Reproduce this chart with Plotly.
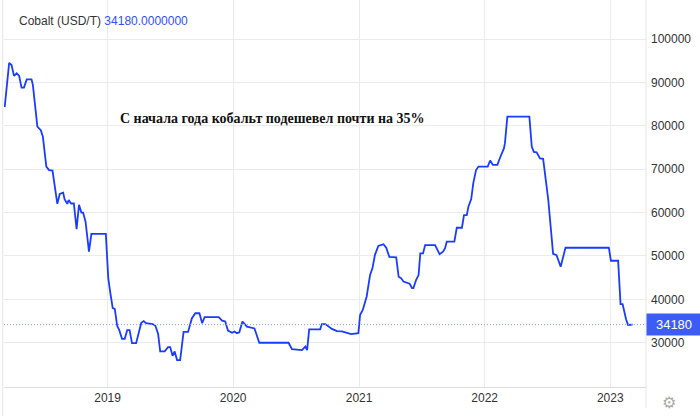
import plotly.graph_objects as go

dates = [
    "2018-03-08", "2018-03-21", "2018-03-28", "2018-04-04", "2018-04-12", "2018-04-19",
    "2018-04-26", "2018-05-03", "2018-05-11", "2018-05-25", "2018-05-29", "2018-06-11",
    "2018-06-21", "2018-06-27", "2018-07-07", "2018-07-15", "2018-07-25", "2018-08-08",
    "2018-08-15", "2018-08-25", "2018-08-29", "2018-09-06", "2018-09-10", "2018-09-17",
    "2018-09-25", "2018-10-03", "2018-10-10", "2018-10-17", "2018-10-22", "2018-10-29",
    "2018-11-08", "2018-11-15", "2018-12-27", "2019-01-03", "2019-01-09", "2019-01-16",
    "2019-01-22", "2019-01-29", "2019-02-04", "2019-02-12", "2019-02-20", "2019-02-27",
    "2019-03-06", "2019-03-13", "2019-03-25", "2019-04-09", "2019-04-16", "2019-04-23",
    "2019-05-12", "2019-05-20", "2019-05-28", "2019-06-03", "2019-06-16", "2019-06-26",
    "2019-07-02", "2019-07-09", "2019-07-15", "2019-07-22", "2019-07-31", "2019-08-10",
    "2019-08-23", "2019-09-03", "2019-09-13", "2019-09-25", "2019-10-03", "2019-10-10",
    "2019-11-20", "2019-11-30", "2019-12-09", "2019-12-17", "2019-12-29", "2020-01-05",
    "2020-01-12", "2020-01-19", "2020-01-28", "2020-02-10", "2020-03-03", "2020-03-17",
    "2020-06-10", "2020-06-20", "2020-07-19", "2020-07-29", "2020-08-03", "2020-08-09",
    "2020-09-10", "2020-09-15", "2020-09-25", "2020-10-14", "2020-10-29", "2020-11-12",
    "2020-11-27", "2020-12-09", "2020-12-30", "2021-01-04", "2021-01-12", "2021-01-23",
    "2021-02-02", "2021-02-09", "2021-02-16", "2021-02-26", "2021-03-13", "2021-03-21",
    "2021-03-30", "2021-04-19", "2021-04-26", "2021-05-03", "2021-05-10", "2021-05-22",
    "2021-05-28", "2021-06-04", "2021-06-08", "2021-06-16", "2021-06-23", "2021-06-28",
    "2021-07-06", "2021-07-12", "2021-08-10", "2021-08-23", "2021-09-02", "2021-09-08",
    "2021-09-13", "2021-10-05", "2021-10-12", "2021-10-27", "2021-11-02", "2021-11-10",
    "2021-11-15", "2021-11-23", "2021-11-29", "2021-12-07", "2021-12-14", "2022-01-10",
    "2022-01-17", "2022-01-25", "2022-02-07", "2022-02-15", "2022-02-26", "2022-03-01",
    "2022-03-08", "2022-05-11", "2022-05-18", "2022-05-24", "2022-06-01", "2022-06-11",
    "2022-06-20", "2022-07-05", "2022-07-19", "2022-07-29", "2022-08-10", "2022-08-24",
    "2022-12-28", "2023-01-03", "2023-01-24", "2023-01-31", "2023-02-06", "2023-02-16",
    "2023-02-22", "2023-03-07",
]

prices = [
    84300, 94500, 94000, 91500, 92100, 91500,
    88800, 88800, 90700, 90700, 89400, 79800,
    79000, 77500, 70600, 69800, 69700, 62000,
    64300, 64600, 63100, 62000, 62900, 62100,
    62100, 56200, 61800, 60000, 60000, 57900,
    51000, 55100, 55100, 44900, 41500, 38000,
    37800, 33900, 32900, 30900, 30900, 32900,
    32900, 29900, 29900, 34600, 35000, 34500,
    34300, 33900, 32000, 28000, 28000, 29000,
    29000, 27000, 28000, 26000, 26000, 32500,
    32500, 35600, 36800, 36800, 34500, 35900,
    35900, 35100, 34900, 32800, 32300, 32600,
    32200, 32400, 34900, 33700, 33300, 30000,
    30000, 28500, 28300, 29100, 28300, 33100,
    33100, 34300, 34300, 33200, 32700, 32600,
    32300, 32000, 32200, 36400, 37600, 40600,
    45600, 47200, 50200, 52300, 52700, 51900,
    49800, 49700, 45200, 44900, 44100, 43700,
    43600, 42600, 42600, 44500, 45600, 50600,
    50600, 52500, 52500, 50400, 51000, 51800,
    53300, 53300, 56500, 56500, 59400, 59400,
    61400, 63100, 66800, 69800, 70600, 70600,
    72000, 71000, 71000, 72700, 74800, 76000,
    82100, 82100, 75200, 74000, 73900, 72500,
    72400, 62900, 50500, 50200, 47500, 51900,
    51900, 48900, 48900, 38900, 38900, 35400,
    34100, 34180,
]

last_value = 34180
series_name = "Cobalt (USD/T)"
y_ticks = [30000, 40000, 50000, 60000, 70000, 80000, 90000, 100000]
x_ticks = ["2019-01-01", "2020-01-01", "2021-01-01", "2022-01-01", "2023-01-01"]
x_tick_labels = ["2019", "2020", "2021", "2022", "2023"]
headline = "С начала года кобальт подешевел почти на 35%"

LINE = "#1a3cff"
GRID = "#ebebeb"
FONT = "Liberation Sans, Arial, sans-serif"

fig = go.Figure()
fig.add_trace(go.Scatter(
    x=dates, y=prices, mode="lines",
    line=dict(color=LINE, width=1.8), showlegend=False, hoverinfo="skip",
))

fig.update_layout(
    width=700, height=416,
    margin=dict(l=4, r=54, t=0, b=29),
    paper_bgcolor="white", plot_bgcolor="white",
    font=dict(family=FONT, size=12, color="#333333"),
    xaxis=dict(
        range=["2018-03-06", "2023-04-15"], type="date",
        tickvals=x_ticks, ticktext=x_tick_labels,
        showgrid=True, gridcolor=GRID, gridwidth=1,
        showline=True, linecolor="#dddddd", linewidth=1,
        ticks="", zeroline=False, fixedrange=True,
        tickfont=dict(size=12, color="#333333"),
    ),
    yaxis=dict(
        range=[19800, 109000], side="right",
        tickvals=y_ticks, tickformat="d",
        showgrid=True, gridcolor=GRID, gridwidth=1,
        showline=False, ticks="", zeroline=False,
        ticklabelstandoff=4, fixedrange=True,
        tickfont=dict(size=12, color="#333333"),
    ),
    shapes=[
        dict(type="line", xref="paper", yref="y", x0=0, x1=1,
             y0=last_value, y1=last_value,
             line=dict(color="#8a9cf5", width=1, dash="1px,2px")),
        dict(type="line", xref="paper", yref="paper", x0=1, x1=1,
             y0=-0.055, y1=1, line=dict(color="#e6e6e6", width=1)),
        dict(type="line", xref="paper", yref="paper", x0=-0.002, x1=-0.002,
             y0=-0.08, y1=1, line=dict(color="#e6e6e6", width=1)),
    ],
    annotations=[
        dict(xref="paper", yref="paper", x=0.021, y=0.945, xanchor="left", yanchor="middle",
             showarrow=False,
             text=f"{series_name} <span style='color:#3350f0'>{last_value:.7f}</span>",
             font=dict(size=12, color="#333333", family=FONT)),
        dict(xref="paper", yref="paper", x=0.178, y=0.695, xanchor="left", yanchor="middle",
             showarrow=False, text=f"<b>{headline}</b>",
             font=dict(size=14, color="#111111",
                       family="Liberation Serif, Times New Roman, serif")),
        dict(xref="paper", yref="y", x=1, y=last_value, xanchor="left", yanchor="middle",
             showarrow=False, text=f"{last_value}", width=50, height=17,
             bgcolor="#3d5cf5", borderpad=2, xshift=0,
             font=dict(size=13, color="white", family=FONT)),
        dict(xref="paper", yref="paper", x=1, y=-0.04, xanchor="left", yanchor="middle",
             showarrow=False, text="⚙", xshift=14,
             font=dict(size=16, color="#aaaaaa", family="DejaVu Sans")),
    ],
)

fig.write_html("out.html", config={"displayModeBar": False},
               post_script="document.body.style.margin='0';")
